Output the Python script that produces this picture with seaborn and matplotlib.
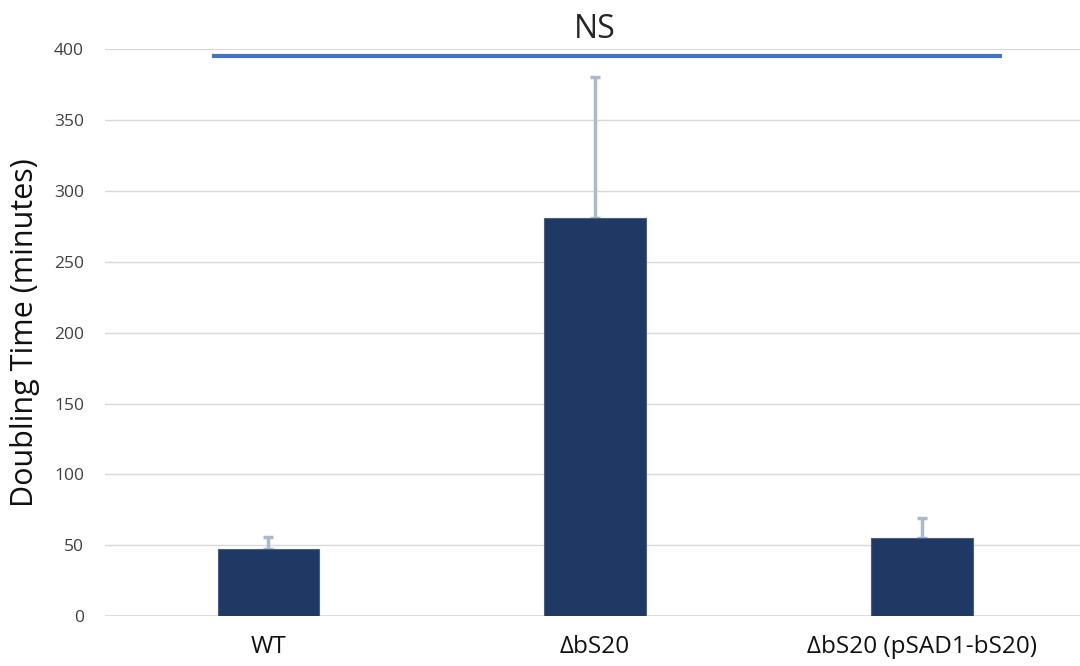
import matplotlib
matplotlib.use("Agg")
import matplotlib.pyplot as plt
import pandas as pd
import seaborn as sns

# data
strains = ["WT", "\u0394bS20", "\u0394bS20 (pSAD1-bS20)"]
doubling_time = [47.3, 280.8, 55.2]
error_up = [8.5, 99.5, 14.0]
sig_value = 395
sig_label = "NS"

BAR_COLOR = "#203864"
ERR_COLOR = "#adb9ca"
SIG_COLOR = "#4472c4"
GRID_COLOR = "#d9d9d9"

sns.set_theme(style="white")
plt.rcParams["font.family"] = ["Open Sans", "DejaVu Sans"]

df = pd.DataFrame({"strain": strains, "time": doubling_time})

fig, ax = plt.subplots(figsize=(10.8, 6.66), dpi=100)
fig.subplots_adjust(left=0.097, right=1.0, bottom=0.075, top=0.926)

sns.barplot(data=df, x="strain", y="time", color=BAR_COLOR, saturation=1,
            width=0.31, errorbar=None, ax=ax, zorder=3,
            edgecolor="#4a5f85", linewidth=0.8)

ax.errorbar(range(len(strains)), doubling_time,
            yerr=[[0] * len(strains), error_up], fmt="none",
            ecolor=ERR_COLOR, elinewidth=2.5, capsize=3.5, capthick=2.5,
            zorder=2)

# significance line and label
ax.plot([-0.171, 2.245], [sig_value, sig_value], color=SIG_COLOR, lw=3,
        solid_capstyle="butt", clip_on=False, zorder=4)
ax.text(1.0, 414, sig_label, ha="center", va="center", fontsize=23,
        clip_on=False)

ax.set_ylim(0, 400)
ax.set_xlim(-0.5, 2.483)
ax.set_yticks(range(0, 401, 50))
ax.yaxis.grid(True, color=GRID_COLOR, lw=1)
ax.set_axisbelow(True)
for s in ax.spines.values():
    s.set_visible(False)
ax.axhline(0, color=GRID_COLOR, lw=1.2, zorder=1)

ax.tick_params(axis="y", labelsize=12.5, pad=15, length=0)
ax.tick_params(axis="x", labelsize=17.5, pad=14, length=0)
for lbl in ax.get_yticklabels():
    lbl.set_color("#404040")
for lbl in ax.get_xticklabels():
    lbl.set_color("#111111")

ax.set_xlabel("")
ax.set_ylabel("Doubling Time (minutes)", fontsize=22, labelpad=10,
              color="#111111")

fig.savefig("out.png", dpi=100)
plt.close()
